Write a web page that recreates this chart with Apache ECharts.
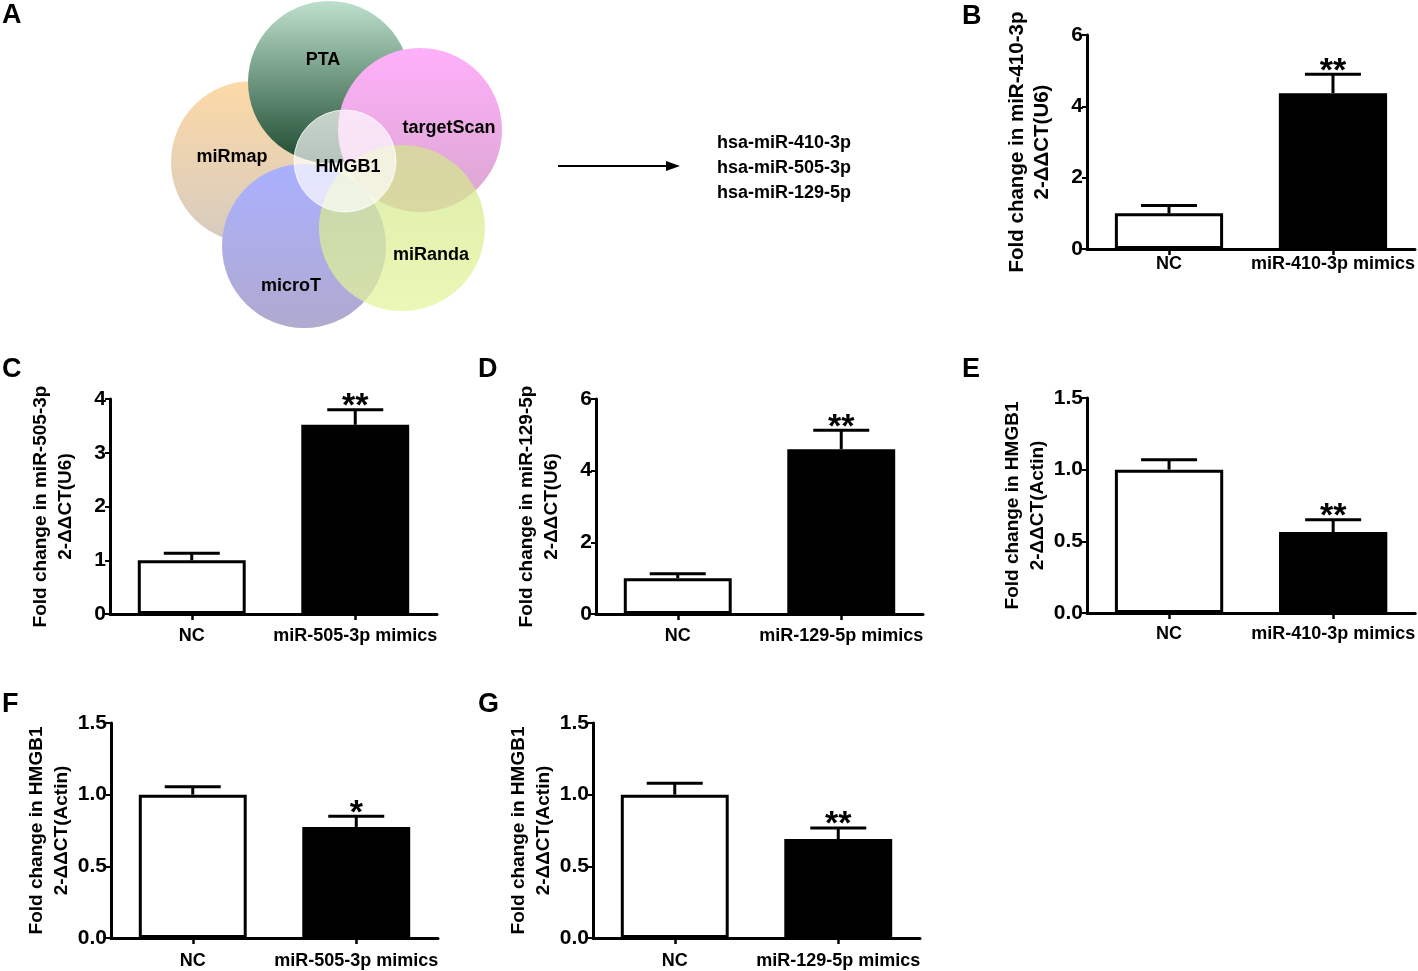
<!DOCTYPE html>
<html>
<head>
<meta charset="utf-8">
<script src="https://cdn.jsdelivr.net/npm/echarts@6/dist/echarts.min.js"></script>
<style>
html,body{margin:0;padding:0;background:#fff;}
#chart{width:1418px;height:971px;}
</style>
</head>
<body>
<div id="chart"></div>
<script>
// ---- data ----
const catsB = ['NC', 'miR-410-3p mimics'];
const catsC = ['NC', 'miR-505-3p mimics'];
const catsD = ['NC', 'miR-129-5p mimics'];
const catsE = ['NC', 'miR-410-3p mimics'];
const catsF = ['NC', 'miR-505-3p mimics'];
const catsG = ['NC', 'miR-129-5p mimics'];

const meanB = [1.0, 4.37];  const errB = [0.22, 0.53];  const sigB = ['', '**'];
const meanC = [1.0, 3.52];  const errC = [0.13, 0.28];  const sigC = ['', '**'];
const meanD = [1.0, 4.60];  const errD = [0.12, 0.53];  const sigD = ['', '**'];
const meanE = [1.0, 0.565]; const errE = [0.07, 0.085]; const sigE = ['', '**'];
const meanF = [1.0, 0.775]; const errF = [0.055, 0.075]; const sigF = ['', '*'];
const meanG = [1.0, 0.69];  const errG = [0.08, 0.077]; const sigG = ['', '**'];

const titleB = 'Fold change in miR-410-3p\n2-ΔΔCT(U6)';
const titleC = 'Fold change in miR-505-3p\n2-ΔΔCT(U6)';
const titleD = 'Fold change in miR-129-5p\n2-ΔΔCT(U6)';
const titleE = 'Fold change in HMGB1\n2-ΔΔCT(Actin)';
const titleF = 'Fold change in HMGB1\n2-ΔΔCT(Actin)';
const titleG = 'Fold change in HMGB1\n2-ΔΔCT(Actin)';

const yMaxList = [6, 4, 6, 1.5, 1.5, 1.5];
const yStepList = [2, 1, 2, 0.5, 0.5, 0.5];
const yDecimals = [0, 0, 0, 1, 1, 1];

const vennSets = ['PTA', 'targetScan', 'miRmap', 'microT', 'miRanda', 'HMGB1'];
const mirList = ['hsa-miR-410-3p', 'hsa-miR-505-3p', 'hsa-miR-129-5p'];
const letters = ['A', 'B', 'C', 'D', 'E', 'F', 'G'];

// ---- layout ----
const FONT = '"Liberation Sans", Arial, sans-serif';
const panels = [
  {cats: catsB, mean: meanB, err: errB, sig: sigB, title: titleB, box: [1087, 35, 328, 214], tsize: 20.5, lm: 6},
  {cats: catsC, mean: meanC, err: errC, sig: sigC, title: titleC, box: [110, 399, 327, 215], tsize: 19, lm: 13},
  {cats: catsD, mean: meanD, err: errD, sig: sigD, title: titleD, box: [596, 399, 327, 215], tsize: 19, lm: 13},
  {cats: catsE, mean: meanE, err: errE, sig: sigE, title: titleE, box: [1087, 398, 329, 215], tsize: 19, lm: 12},
  {cats: catsF, mean: meanF, err: errF, sig: sigF, title: titleF, box: [111, 723, 327, 215], tsize: 19, lm: 14},
  {cats: catsG, mean: meanG, err: errG, sig: sigG, title: titleG, box: [593, 723, 327, 215], tsize: 19, lm: 14}
];

const grid = [], xAxis = [], yAxis = [], series = [];
panels.forEach(function (p, i) {
  grid.push({left: p.box[0], top: p.box[1], width: p.box[2], height: p.box[3], containLabel: false});
  xAxis.push({
    type: 'category', gridIndex: i, data: p.cats,
    axisLine: {show: true, lineStyle: {color: '#000', width: 3}},
    axisTick: {show: true, alignWithLabel: true, length: 6, lineStyle: {color: '#000', width: 2.5}},
    axisLabel: {color: '#000', fontSize: 18, fontWeight: 'bold', fontFamily: FONT, margin: p.lm, interval: 0, hideOverlap: false},
    splitLine: {show: false}
  });
  yAxis.push({
    type: 'value', gridIndex: i, min: 0, max: yMaxList[i], interval: yStepList[i],
    name: p.title, nameLocation: 'middle', nameRotate: 90, nameGap: 32,
    nameTextStyle: {color: '#000', fontSize: p.tsize, fontWeight: 'bold', fontFamily: FONT, lineHeight: 25},
    axisLine: {show: true, lineStyle: {color: '#000', width: 3}},
    axisTick: {show: true, length: 5, lineStyle: {color: '#000', width: 2}},
    axisLabel: {color: '#000', fontSize: 21, fontWeight: 'bold', fontFamily: FONT, margin: 4,
      formatter: function (v) { return v.toFixed(yDecimals[i]); }},
    splitLine: {show: false}
  });
  series.push({
    type: 'bar', xAxisIndex: i, yAxisIndex: i, barWidth: '66%', silent: true,
    data: p.mean.map(function (v, k) {
      return {value: v, itemStyle: {color: k === 0 ? '#fff' : '#000', borderColor: '#000', borderWidth: 3}};
    }),
    z: 2
  });
  series.push({
    type: 'custom', xAxisIndex: i, yAxisIndex: i, silent: true, z: 3,
    data: p.mean.map(function (v, k) { return [k, v, p.err[k]]; }),
    renderItem: function (params, api) {
      const x = api.value(0), m = api.value(1), e = api.value(2);
      const top = api.coord([x, m]);
      const cap = api.coord([x, m + e]);
      const s = p.sig[params.dataIndex];
      const children = [
        {type: 'line', shape: {x1: top[0], y1: top[1], x2: cap[0], y2: cap[1]}, style: {stroke: '#000', lineWidth: 3}},
        {type: 'line', shape: {x1: cap[0] - 28, y1: cap[1], x2: cap[0] + 28, y2: cap[1]}, style: {stroke: '#000', lineWidth: 3}}
      ];
      if (s) {
        children.push({type: 'text', x: cap[0], y: cap[1] + 14,
          style: {text: s, fontSize: 34, fontWeight: 'bold', fontFamily: FONT, fill: '#000', align: 'center', verticalAlign: 'bottom'}});
      }
      return {type: 'group', children: children};
    }
  });
});

// ---- Venn (panel A) ----
function lg(c1, c2) {
  return {type: 'linear', x: 0, y: 0, x2: 0, y2: 1, colorStops: [{offset: 0, color: c1}, {offset: 1, color: c2}]};
}
const venn = [
  {type: 'circle', shape: {cx: 252, cy: 162, r: 81}, style: {fill: lg('#fdd9a6', '#d6cbbf')}},
  {type: 'circle', shape: {cx: 329, cy: 82, r: 81}, style: {fill: lg('#bde0cc', '#1c4a2f')}},
  {type: 'circle', shape: {cx: 420, cy: 130, r: 82}, style: {fill: lg('#ffb0fa', '#d9a6cf')}},
  {type: 'circle', shape: {cx: 304, cy: 246, r: 82}, style: {fill: lg('#aab0ff', '#b0aacf')}},
  {type: 'circle', shape: {cx: 402, cy: 228, r: 83}, style: {fill: lg('#d2e68a', '#e2f59a'), opacity: 0.72}},
  {type: 'circle', shape: {cx: 345, cy: 161, r: 51}, style: {fill: 'rgba(255,255,255,0.68)', stroke: 'rgba(255,255,255,0.8)', lineWidth: 1}}
];
const vennLabelPos = [[323, 60], [449, 128], [232, 157], [291, 286], [431, 255], [348, 167]];
vennSets.forEach(function (name, k) {
  venn.push({type: 'text', x: vennLabelPos[k][0], y: vennLabelPos[k][1],
    style: {text: name, fontSize: 18, fontWeight: 'bold', fontFamily: FONT, fill: '#000', align: 'center', verticalAlign: 'middle'}});
});
// arrow
venn.push({type: 'line', shape: {x1: 558, y1: 166, x2: 668, y2: 166}, style: {stroke: '#000', lineWidth: 2}});
venn.push({type: 'polygon', shape: {points: [[666, 161], [680, 166], [666, 171]]}, style: {fill: '#000'}});
mirList.forEach(function (t, k) {
  venn.push({type: 'text', x: 717, y: 143 + k * 25,
    style: {text: t, fontSize: 18, fontWeight: 'bold', fontFamily: FONT, fill: '#000', align: 'left', verticalAlign: 'middle'}});
});
// panel letters
const letterPos = [[2, 2], [962, 3], [2, 356], [478, 356], [962, 356], [2, 691], [478, 691]];
letters.forEach(function (L, k) {
  venn.push({type: 'text', x: letterPos[k][0], y: letterPos[k][1],
    style: {text: L, fontSize: 27, fontWeight: 'bold', fontFamily: FONT, fill: '#000', align: 'left', verticalAlign: 'top'}});
});

const chart = echarts.init(document.getElementById('chart'), null, {renderer: 'canvas'});
chart.setOption({
  animation: false,
  backgroundColor: '#fff',
  grid: grid, xAxis: xAxis, yAxis: yAxis, series: series,
  graphic: venn
});
</script>
</body>
</html>
